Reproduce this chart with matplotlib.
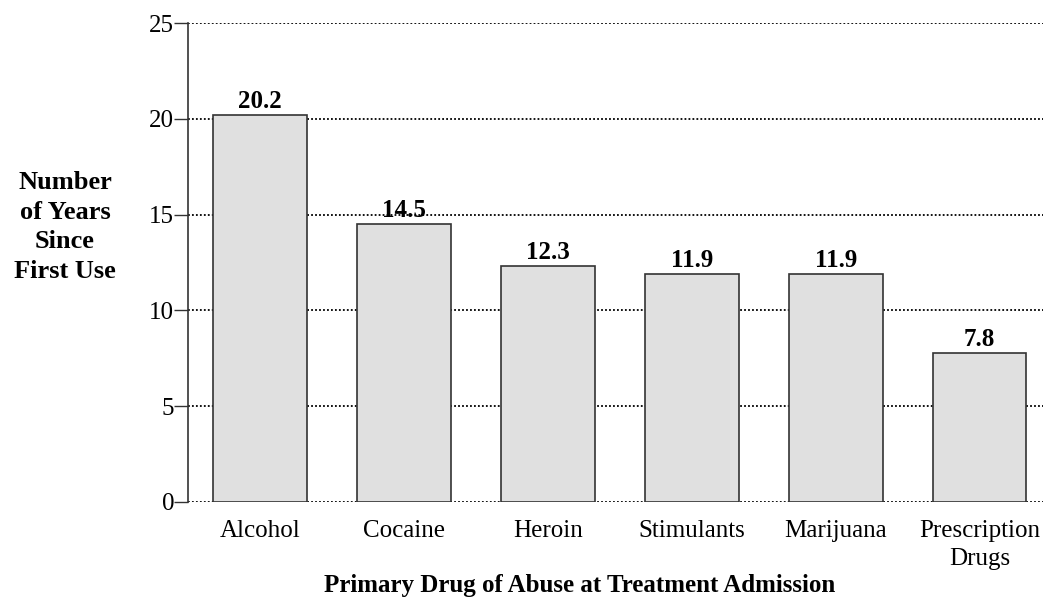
import matplotlib.pyplot as plt
import numpy as np

plt.rcParams['font.family'] = ['Liberation Serif', 'DejaVu Serif']

drugs = ['Alcohol', 'Cocaine', 'Heroin', 'Stimulants', 'Marijuana', 'Prescription\nDrugs']
years = [20.2, 14.5, 12.3, 11.9, 11.9, 7.8]
yticks = [0, 5, 10, 15, 20, 25]

fig = plt.figure(figsize=(10.43, 5.99), dpi=100)
ax = fig.add_axes([188 / 1043, 97 / 599, 1 - 188 / 1043, 479 / 599])

x = np.arange(len(drugs))
bars = ax.bar(x, years, width=0.65, color='#e0e0e0', edgecolor='#333333', linewidth=1.2, zorder=3)

for xi, v in zip(x, years):
    ax.text(xi, v + 0.1, f'{v}', ha='center', va='bottom', fontsize=18, fontweight='bold', zorder=4)

ax.set_xlim(-0.5, 5.44)
ax.set_ylim(0, 25)
ax.set_yticks(yticks)
ax.yaxis.grid(True, linestyle=(0, (1, 1.2)), color='black', linewidth=1.3, zorder=0)
ax.set_axisbelow(True)

ax.set_xticks(x)
ax.set_xticklabels(drugs, fontsize=18, linespacing=1.35)
ax.tick_params(axis='x', length=0, pad=13)
ax.tick_params(axis='y', labelsize=18, length=10, width=1, color='#333333', pad=0)

for s in ['top', 'right', 'bottom']:
    ax.spines[s].set_visible(False)
ax.spines['left'].set_color('#333333')
ax.spines['left'].set_linewidth(1.2)

fig.text(580 / 1043, 1 - 592 / 599, 'Primary Drug of Abuse at Treatment Admission', ha='center', va='baseline',
         fontsize=18, fontweight='bold')
fig.text(65 / 1043, 1 - 227 / 599, 'Number\nof Years\nSince\nFirst Use', ha='center', va='center',
         fontsize=19, fontweight='bold', linespacing=1.38)

fig.savefig('out.png', dpi=100)
